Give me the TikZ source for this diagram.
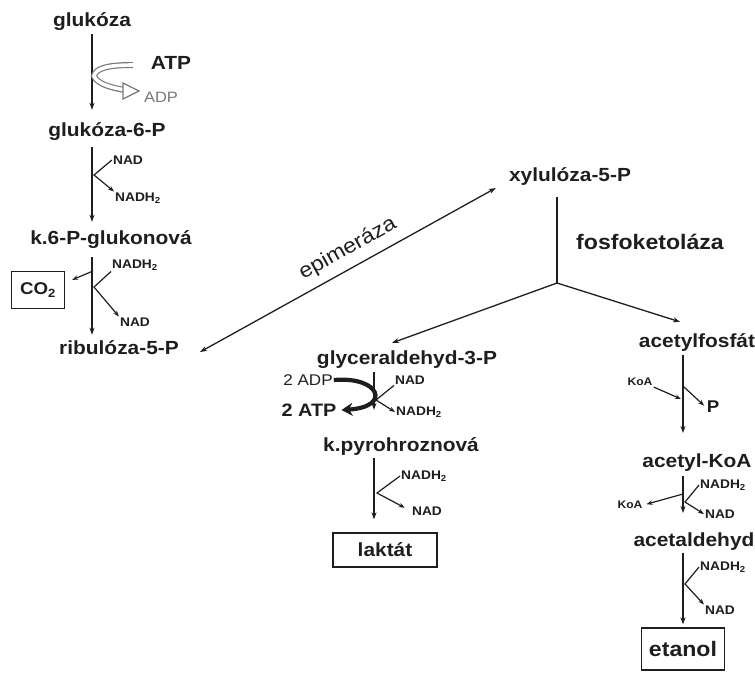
\documentclass[tikz,border=0pt]{standalone}
\usepackage{fontspec}
\setmainfont{Liberation Sans}[FakeStretch=1.1]
\usetikzlibrary{arrows.meta,calc,positioning}
\definecolor{ink}{RGB}{30,30,30}
\definecolor{faint}{RGB}{120,120,120}
\tikzset{
  metab/.style={font=\fontsize{19}{22}\selectfont\bfseries,text=ink,inner sep=1pt},
  cofac/.style={font=\fontsize{12.5}{14}\selectfont\bfseries,text=ink,inner sep=1pt},
  energy/.style={font=\fontsize{19}{22}\selectfont\bfseries,text=ink,inner sep=1pt},
  product/.style={metab,draw=ink,line width=1.3pt,inner sep=4pt},
  reaction/.style={-{Stealth[length=7pt,width=5pt]},draw=ink,line width=1.3pt},
  sidearr/.style={-{Stealth[length=6pt,width=4.5pt]},draw=ink,line width=1.2pt},
  branch/.style={draw=ink,line width=1.3pt},
}

\begin{document}
\begin{tikzpicture}[x=1pt,y=-1pt]
  \path[use as bounding box] (0,0) rectangle (755,680);

  % left column
  \node[metab] (glc) at (92,22) {glukóza};
  \node[energy] (atp) at (171,63) {ATP};
  \node[font=\fontsize{15}{17}\selectfont,text=faint,inner sep=1pt] (adp) at (161,97) {ADP};
  \node[metab] (g6p) at (107,132) {glukóza-6-P};
  \node[cofac] (nad1) at (128,160) {NAD};
  \node[cofac] (nadh1) at (138,198) {NADH\textsubscript{2}};
  \node[metab] (pglu) at (111,240) {k.6-P-glukonová};
  \node[cofac] (nadh2) at (135,265) {NADH\textsubscript{2}};
  \node[product,font=\fontsize{17}{20}\selectfont\bfseries,minimum width=53pt,minimum height=37pt] (co2) at (38,290) {CO\textsubscript{2}};
  \node[cofac] (nad2) at (135,322) {NAD};
  \node[metab] (ru5p) at (119,348) {ribulóza-5-P};

  \draw[reaction,shorten <=2pt,shorten >=12pt] (glc.south) -- (glc.south |- g6p.north);
  \draw[reaction,shorten <=5pt,shorten >=8pt] (g6p.south -| glc) -- (pglu.north -| glc);
  \draw[reaction,shorten <=7pt,shorten >=5pt] (pglu.south -| glc) -- (ru5p.north -| glc);

  % ATP -> ADP band
  \draw[line width=6pt,faint] (133,65) .. controls (108,65) and (96,68) .. (94,76)
    .. controls (97,84) and (112,88) .. (125,90);
  \draw[line width=3.6pt,white] (134,65) .. controls (108,65) and (96,68) .. (94,76)
    .. controls (97,84) and (112,88) .. (126,90);
  \draw[faint,line width=1.2pt,fill=white] (123,83) -- (139,91) -- (123,99) -- cycle;

  \coordinate (j1) at (94,175);
  \draw[sidearr] (nad1.west) -- (j1) -- (nadh1.north west);
  \coordinate (j2a) at (93,271);
  \coordinate (j2b) at (94,287);
  \draw[sidearr] (j2a) -- ($(co2.north east)+(7,9)$);
  \draw[sidearr] (nadh2.south west) -- (j2b) -- (nad2.north west);

  % epimerase and phosphoketolase
  \node[metab] (xu5p) at (570,177) {xylulóza-5-P};
  \node[metab,font=\fontsize{21}{24}\selectfont\bfseries] (fk) at (650,242) {fosfoketoláza};
  \coordinate (split) at (557,283);
  \draw[branch,{Stealth[length=7pt,width=5pt]}-{Stealth[length=7pt,width=5pt]}]
    ($(ru5p.east)+(20,4)$) -- ($(xu5p.west)+(-12,11)$)
    node[sloped,above=7pt,pos=0.53,font=\fontsize{21}{24}\selectfont,text=ink,inner sep=1pt] (epi) {epimeráza};
  \draw[branch,shorten <=10pt] (xu5p.south -| split) -- (split);

  % middle column
  \node[metab] (gap) at (407,360) {glyceraldehyd-3-P};
  \node[font=\fontsize{15.5}{18}\selectfont,text=ink,inner sep=1pt] (adp2) at (308,380) {2 ADP};
  \node[font=\fontsize{18}{21}\selectfont\bfseries,text=ink,inner sep=1pt] (atp2) at (309,410) {2 ATP};
  \node[cofac] (nad3) at (410,380) {NAD};
  \node[cofac] (nadh3) at (419,412) {NADH\textsubscript{2}};
  \node[metab] (pyr) at (401,446) {k.pyrohroznová};
  \node[cofac] (nadh4) at (424,476) {NADH\textsubscript{2}};
  \node[cofac] (nad4) at (427,511) {NAD};
  \node[product,minimum width=104pt,minimum height=34pt] (lak) at (385,550) {laktát};

  \draw[reaction] (split) -- ($(gap.north)+(-15,-7)$);
  \coordinate (midx) at (374,0);
  \draw[reaction,shorten <=2pt,shorten >=26pt] (gap.south -| midx) -- (pyr.north -| midx);
  \draw[reaction,shorten <=2pt,shorten >=13pt] (pyr.south -| midx) -- (lak.north -| midx);
  \draw[line width=4.2pt,ink,-{Stealth[length=11pt,width=13pt]}] (adp2.east)
    .. controls (380,376) and (392,407) .. ($(atp2.east)+(4,0)$);
  \coordinate (j3) at (376,400);
  \draw[sidearr] (nad3.south west) -- (j3) -- (nadh3.west);
  \coordinate (j4) at (377,493);
  \draw[sidearr,shorten >=7pt] (nadh4.west) -- (j4) -- (nad4.west);

  % right column
  \node[metab] (acp) at (697,342) {acetylfosfát};
  \node[cofac,font=\fontsize{11}{13}\selectfont\bfseries] (koa1) at (640,382) {KoA};
  \node[font=\fontsize{17}{20}\selectfont\bfseries,text=ink,inner sep=1pt] (pi) at (713,407) {P};
  \node[metab] (acoa) at (697,463) {acetyl-KoA};
  \node[cofac] (nadh5) at (723,485) {NADH\textsubscript{2}};
  \node[cofac,font=\fontsize{11}{13}\selectfont\bfseries] (koa2) at (630,505) {KoA};
  \node[cofac] (nad5) at (720,514) {NAD};
  \node[metab] (ald) at (694,542) {acetaldehyd};
  \node[cofac] (nadh6) at (723,567) {NADH\textsubscript{2}};
  \node[cofac] (nad6) at (720,610) {NAD};
  \node[product,font=\fontsize{21}{24}\selectfont\bfseries,minimum width=83pt,minimum height=42pt] (eth) at (683,649) {etanol};

  \draw[reaction] (split) -- ($(acp.north)+(-17,-10)$);
  \draw[reaction,shorten <=3pt,shorten >=20pt] (acp.south -| eth) -- (acoa.north -| eth);
  \draw[reaction,shorten <=3pt,shorten >=19pt] (acoa.south -| eth) -- (ald.north -| eth);
  \draw[reaction,shorten <=1pt,shorten >=3pt] (ald.south -| eth) -- (eth.north);
  \coordinate (j5a) at (681,399);
  \coordinate (j5b) at (684,387);
  \draw[sidearr] (koa1.south east) -- (j5a);
  \draw[sidearr,shorten >=2pt] (j5b) -- (pi.west);
  \coordinate (j6a) at (683,494);
  \coordinate (j6b) at (685,502);
  \draw[sidearr,shorten >=3pt] (j6a) -- (koa2.east);
  \draw[sidearr] (nadh5.west) -- (j6b) -- (nad5.west);
  \coordinate (j7) at (685,584);
  \draw[sidearr] (nadh6.west) -- (j7) -- (nad6.north west);
\end{tikzpicture}
\end{document}
